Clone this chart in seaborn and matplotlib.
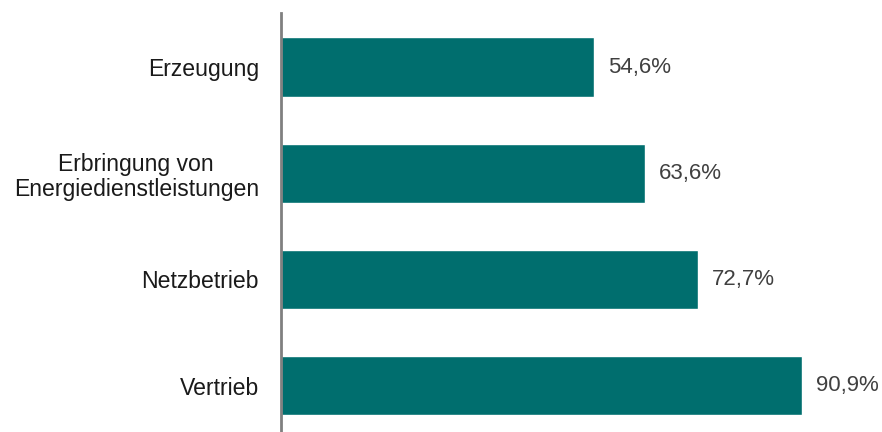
import matplotlib
matplotlib.use("Agg")
import matplotlib.pyplot as plt
import seaborn as sns
import pandas as pd

categories = ["Erzeugung", "Erbringung von\nEnergiedienstleistungen", "Netzbetrieb", "Vertrieb"]
values = [54.6, 63.6, 72.7, 90.9]
value_labels = ["54,6%", "63,6%", "72,7%", "90,9%"]

sns.set_theme(style="white")
plt.rcParams['font.family'] = ['Liberation Sans', 'DejaVu Sans']

df = pd.DataFrame({"cat": categories, "val": values})

W, H = 882, 432
fig = plt.figure(figsize=(W / 100, H / 100), dpi=100)
ax = fig.add_axes([281 / W, 0, 1 - 281 / W, 1 - 13 / H])

sns.barplot(data=df, y="cat", x="val", orient="h", color="#006E6E",
            saturation=1, width=0.56, ax=ax)

ax.set_xlim(0, (W - 281) / 5.73)
ax.set_ylim(3.438, -0.51)
ax.set_xlabel("")
ax.set_ylabel("")
ax.set_xticks([])
for s in ["top", "right", "bottom"]:
    ax.spines[s].set_visible(False)
ax.spines["left"].set_color("#808080")
ax.spines["left"].set_linewidth(2)
ax.tick_params(axis="y", length=0, pad=16, labelsize=16.6, labelcolor="#1a1a1a")
for lab in ax.get_yticklabels():
    lab.set_multialignment("center")
    lab.set_linespacing(1.1)

for i, (v, t) in enumerate(zip(values, value_labels)):
    ax.annotate(t, xy=(v, i), xytext=(10, 0), textcoords="offset points",
                va="center", ha="left", fontsize=16, color="#404040")

fig.savefig("out.png", dpi=100)
